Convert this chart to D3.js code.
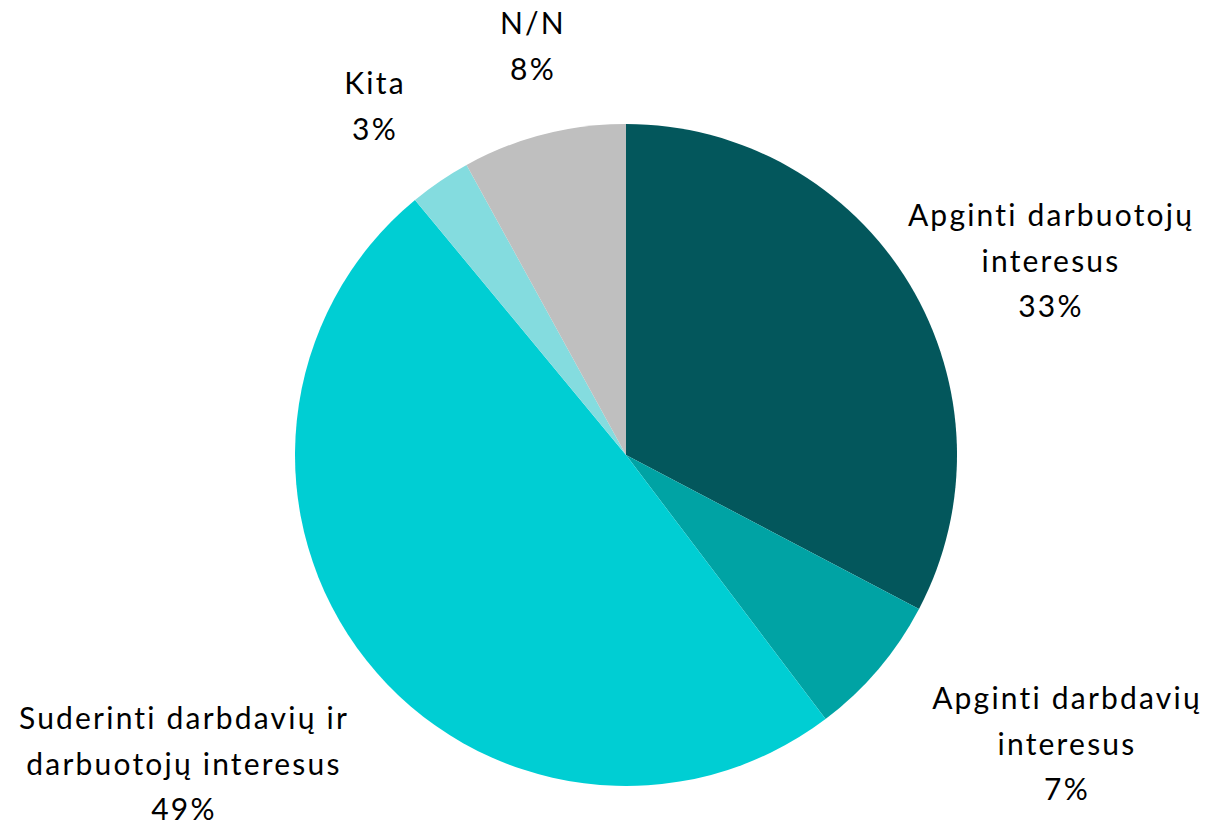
<!DOCTYPE html>
<html><head><meta charset="utf-8">
<script src="https://cdn.jsdelivr.net/npm/d3@7"></script>
<style>html,body{margin:0;padding:0;background:#fff;}svg{display:block;}</style>
</head><body>
<svg id="chart" width="1212" height="826"></svg>
<script>
const categories = ["Apginti darbuotojų interesus", "Apginti darbdavių interesus", "Suderinti darbdavių ir darbuotojų interesus", "Kita", "N/N"];
const values = [32.7, 7.0, 49.3, 3.0, 8.0];
const percentLabels = ["33%", "7%", "49%", "3%", "8%"];
const labelLines = [
  ["Apginti darbuotojų", "interesus"],
  ["Apginti darbdavių", "interesus"],
  ["Suderinti darbdavių ir", "darbuotojų interesus"],
  ["Kita"],
  ["N/N"]
];
const colors = ["#03575C", "#00A3A4", "#00CED3", "#84DCDF", "#BFBFBF"];

// layout
const W = 1212, H = 826;
const cx = 626, cy = 455, R = 331;
const labelAnchors = [[1051, 226], [1067, 709], [184, 729], [375, 94], [533, 34]];
const lineH = 45.5;

const svg = d3.select("#chart");
const g = svg.append("g").attr("transform", `translate(${cx},${cy})`);
const pie = d3.pie().sort(null).value(d => d)(values);
const arc = d3.arc().innerRadius(0).outerRadius(R);

g.selectAll("path").data(pie).join("path")
  .attr("d", arc)
  .attr("fill", (d, i) => colors[i]);

const labels = svg.selectAll("text.lbl").data(categories).join("text")
  .attr("class", "lbl")
  .attr("text-anchor", "middle")
  .attr("font-family", "Lato, 'Open Sans', sans-serif")
  .attr("font-size", 30)
  .attr("letter-spacing", 2.2)
  .attr("fill", "#000")
  .attr("x", (d, i) => labelAnchors[i][0])
  .attr("y", (d, i) => labelAnchors[i][1]);

labels.each(function(d, i) {
  const t = d3.select(this);
  const lines = labelLines[i].concat([percentLabels[i]]);
  lines.forEach((ln, k) => {
    t.append("tspan").attr("x", labelAnchors[i][0]).attr("dy", k === 0 ? 0 : lineH).text(ln);
  });
});
</script>
</body></html>
